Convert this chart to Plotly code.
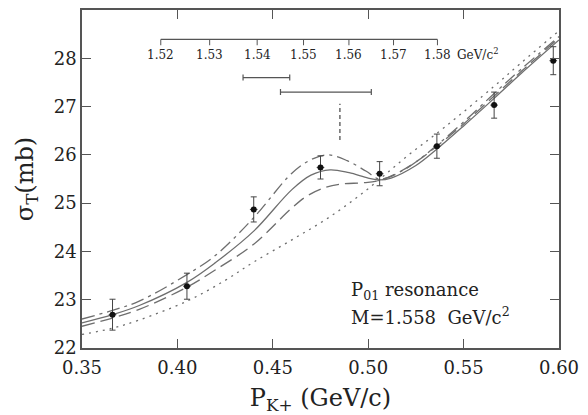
import numpy as np
import plotly.graph_objects as go

# ---- data ----
p_data = [0.366, 0.405, 0.440, 0.475, 0.506, 0.536, 0.566, 0.597]
sig_data = [22.69, 23.28, 24.87, 25.74, 25.61, 26.18, 27.03, 27.95]
sig_err = [0.32, 0.27, 0.26, 0.24, 0.25, 0.25, 0.27, 0.29]
p_err = [0.002, 0.002, 0.002, 0.002, 0.002, 0.002, 0.002, 0.002]

solid_x = [0.35, 0.366, 0.38, 0.405, 0.42, 0.44, 0.46, 0.47, 0.48, 0.49, 0.50, 0.506, 0.512, 0.525, 0.536, 0.55, 0.566, 0.58, 0.60]
solid_y = [22.52, 22.69, 22.88, 23.36, 23.77, 24.42, 25.28, 25.58, 25.69, 25.63, 25.52, 25.48, 25.52, 25.78, 26.12, 26.60, 27.17, 27.68, 28.38]

dash_x = [0.35, 0.366, 0.38, 0.405, 0.42, 0.44, 0.46, 0.468, 0.478, 0.487, 0.497, 0.506, 0.517, 0.526, 0.536, 0.55, 0.566, 0.58, 0.60]
dash_y = [22.45, 22.62, 22.80, 23.26, 23.62, 24.15, 24.90, 25.15, 25.33, 25.40, 25.42, 25.47, 25.66, 25.88, 26.18, 26.64, 27.22, 27.72, 28.42]

dashdot_x = [0.35, 0.366, 0.38, 0.405, 0.42, 0.44, 0.46, 0.47, 0.479, 0.489, 0.499, 0.506, 0.52, 0.536, 0.55, 0.566, 0.58, 0.60]
dashdot_y = [22.60, 22.78, 22.97, 23.52, 23.92, 24.70, 25.62, 25.90, 26.00, 25.88, 25.66, 25.50, 25.72, 26.20, 26.68, 27.27, 27.77, 28.45]

dot_x = [0.35, 0.366, 0.38, 0.405, 0.425, 0.44, 0.46, 0.48, 0.50, 0.52, 0.54, 0.566, 0.58, 0.60]
dot_y = [22.28, 22.41, 22.58, 22.97, 23.40, 23.78, 24.24, 24.72, 25.30, 25.96, 26.57, 27.42, 27.90, 28.57]

# mass scale (GeV/c^2)
mass_ticks = [1.52, 1.53, 1.54, 1.55, 1.56, 1.57, 1.58]
mass_scale_level = 28.39
mass_fits = [1.542, 1.555]
mass_fit_err = [0.005, 0.010]
mass_fit_level = [27.60, 27.30]
mass_res = 1.558
mass_res_range = [26.31, 27.06]

M_K, M_N = 0.4937, 0.9396


def p_of_mass(w):
    w = np.asarray(w, dtype=float)
    e = (w ** 2 - M_K ** 2 - M_N ** 2) / (2 * M_N)
    return np.sqrt(e ** 2 - M_K ** 2)


LINE_C = "#6e6e6e"
TXT_C = "#222222"
FONT = "DejaVu Serif"

fig = go.Figure()

fig.add_trace(go.Scatter(x=dot_x, y=dot_y, mode="lines", line=dict(color=LINE_C, width=1.3, dash="2px,5px", shape="spline"), showlegend=False))
fig.add_trace(go.Scatter(x=dash_x, y=dash_y, mode="lines", line=dict(color=LINE_C, width=1.3, dash="13px,6px", shape="spline"), showlegend=False))
fig.add_trace(go.Scatter(x=dashdot_x, y=dashdot_y, mode="lines", line=dict(color=LINE_C, width=1.3, dash="13px,5px,3px,5px", shape="spline"), showlegend=False))
fig.add_trace(go.Scatter(x=solid_x, y=solid_y, mode="lines", line=dict(color=LINE_C, width=1.3, shape="spline"), showlegend=False))

fig.add_trace(go.Scatter(
    x=p_data, y=sig_data, mode="markers",
    marker=dict(color="#111111", size=6),
    error_y=dict(type="data", array=sig_err, color="#444444", thickness=1, width=3),
    error_x=dict(type="data", array=p_err, color="#444444", thickness=1, width=0),
    showlegend=False))

# mass scale line
p_ticks = p_of_mass(mass_ticks)
shapes = []
shapes.append(dict(type="line", xref="x", yref="y", x0=float(p_ticks[0]), x1=float(p_ticks[-1]),
                   y0=mass_scale_level, y1=mass_scale_level, line=dict(color="#555555", width=1.3)))
annotations = []
for m, p in zip(mass_ticks, p_ticks):
    shapes.append(dict(type="line", xref="x", yref="y", x0=float(p), x1=float(p),
                       y0=mass_scale_level, y1=mass_scale_level - 0.12, line=dict(color="#555555", width=1)))
    annotations.append(dict(x=float(p), y=mass_scale_level, xref="x", yref="y", text=f"{m:.2f}",
                            showarrow=False, yshift=-16, font=dict(family=FONT, size=12, color=TXT_C)))
annotations.append(dict(x=float(p_ticks[-1]), y=mass_scale_level, xref="x", yref="y", text="GeV/c<sup>2</sup>",
                        showarrow=False, xanchor="left", xshift=18, yshift=-15, font=dict(family=FONT, size=12, color=TXT_C)))

# fitted mass error bars
for mc, me, lv in zip(mass_fits, mass_fit_err, mass_fit_level):
    pc = float(p_of_mass(mc))
    plo = float(p_of_mass(mc - me))
    phi = float(p_of_mass(mc + me))
    fig.add_trace(go.Scatter(x=[pc], y=[lv], mode="markers", marker=dict(size=1, color="rgba(0,0,0,0)"),
                             error_x=dict(type="data", symmetric=False, array=[phi - pc], arrayminus=[pc - plo],
                                          color="#555555", thickness=1.2, width=3),
                             showlegend=False))

# resonance mass marker
pr = float(p_of_mass(mass_res))
shapes.append(dict(type="line", xref="x", yref="y", x0=pr, x1=pr, y0=mass_res_range[0], y1=mass_res_range[1],
                   line=dict(color="#444444", width=1.2, dash="4px,3px")))

annotations.append(dict(x=0.4899, y=23.19, xref="x", yref="y", text="P<sub>01</sub> resonance", showarrow=False,
                        xanchor="left", font=dict(family=FONT, size=18, color=TXT_C)))
annotations.append(dict(x=0.4899, y=22.67, xref="x", yref="y", text="M=1.558  GeV/c<sup>2</sup>", showarrow=False,
                        xanchor="left", font=dict(family=FONT, size=18, color=TXT_C)))

fig.update_layout(
    width=588, height=415,
    margin=dict(l=82, r=29, t=8, b=67),
    paper_bgcolor="white", plot_bgcolor="white",
    shapes=shapes, annotations=annotations,
    font=dict(family=FONT, color=TXT_C),
)
fig.update_xaxes(range=[0.35, 0.60], tickvals=[0.35, 0.40, 0.45, 0.50, 0.55, 0.60],
                 ticktext=["0.35", "0.40", "0.45", "0.50", "0.55", "0.60"],
                 ticks="inside", ticklen=9, tickcolor="#555555", tickwidth=1.3,
                 showline=True, linecolor="#555555", linewidth=1.5, mirror="ticks",
                 showgrid=False, zeroline=False, tickfont=dict(family=FONT, size=18, color=TXT_C),
                 ticklabelstandoff=3,
                 title=dict(text="P<sub>K+</sub> (GeV/c)", font=dict(family=FONT, size=24, color=TXT_C), standoff=12))
fig.update_yaxes(range=[22, 29], tickvals=[22, 23, 24, 25, 26, 27, 28, 29],
                 ticks="inside", ticklen=9, tickcolor="#555555", tickwidth=1.3,
                 showline=True, linecolor="#555555", linewidth=1.5, mirror="ticks",
                 showgrid=False, zeroline=False, tickfont=dict(family=FONT, size=18, color=TXT_C),
                 title=dict(text="σ<sub>T</sub>(mb)", font=dict(family=FONT, size=24, color=TXT_C), standoff=13))

fig.write_html("out.html")
